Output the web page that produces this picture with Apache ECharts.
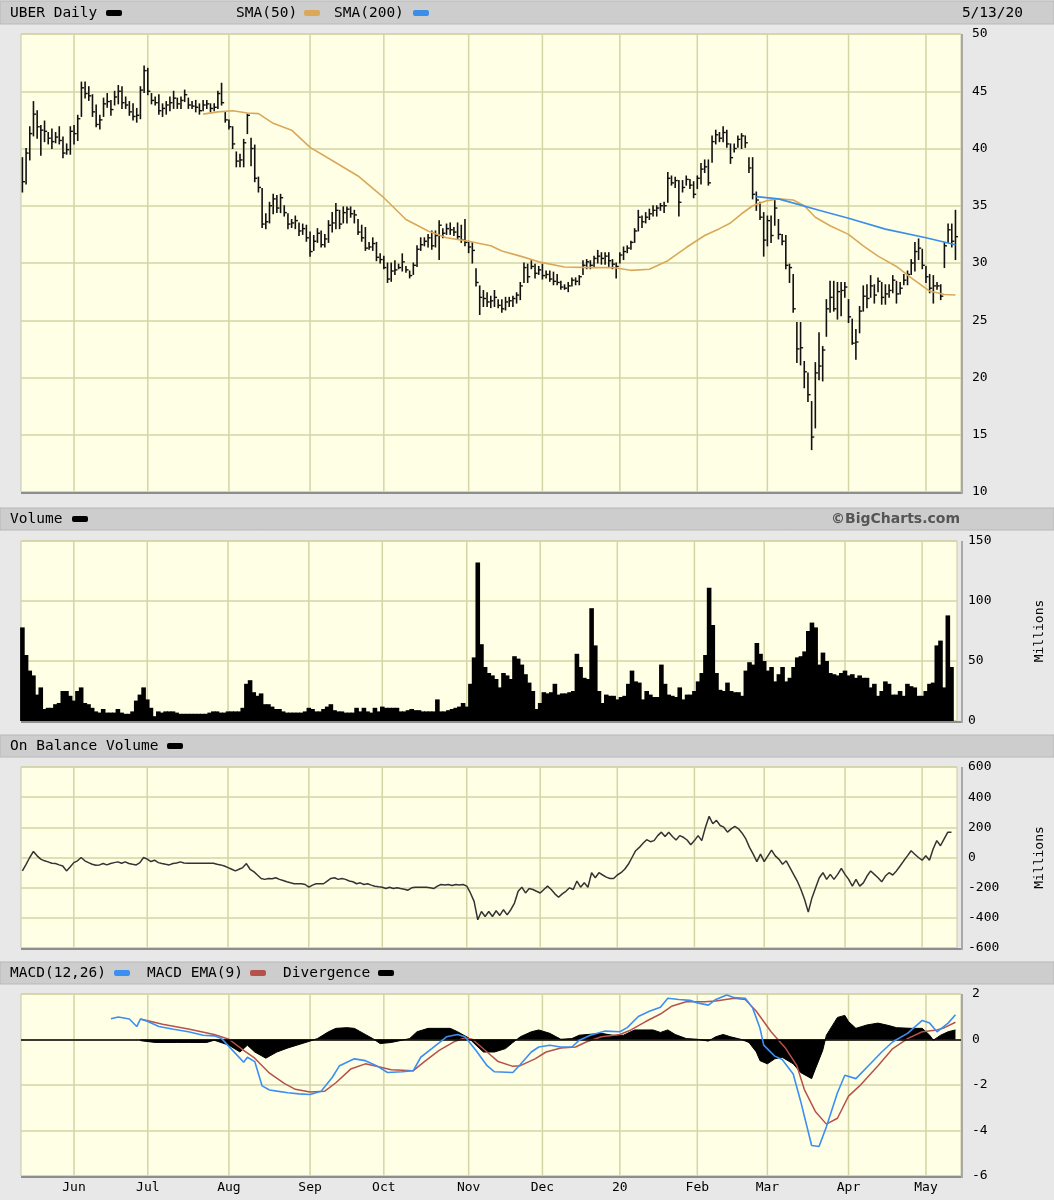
<!DOCTYPE html>
<html><head><meta charset="utf-8">
<script src="https://cdn.jsdelivr.net/npm/echarts@6/dist/echarts.min.js"></script>
<style>html,body{margin:0;padding:0;background:#e8e8e8;}#c{width:1054px;height:1200px;}</style>
</head><body><div id="c"></div>
<script>
// ---- data (UBER daily, 5/13/19 - 5/13/20) ----
const highs = [
39.2,40.0,41.9,44.1,43.3,42.0,42.4,41.4,41.7,41.4,
41.9,41.0,40.4,41.9,42.0,42.9,45.8,45.8,45.4,44.7,
43.8,42.9,44.4,44.8,44.2,45.0,45.5,45.4,44.5,44.1,
43.9,43.5,45.4,47.2,47.0,44.8,44.5,44.7,43.9,44.1,
44.5,45.0,44.4,44.5,45.1,44.4,44.1,44.2,43.9,44.2,
44.2,43.9,43.9,45.0,45.7,43.2,42.5,41.9,39.7,39.5,
40.8,43.0,40.9,40.3,37.5,36.5,34.3,35.3,36.0,35.9,
36.0,35.0,34.3,33.8,34.1,33.5,33.4,33.3,32.7,32.4,
33.0,32.8,32.5,33.7,34.4,35.2,34.6,34.9,34.9,34.9,
34.6,33.8,33.3,33.1,31.8,32.2,31.8,30.8,30.6,30.0,
30.0,30.2,29.9,30.8,29.7,29.3,30.0,31.5,32.2,32.2,
32.5,32.8,32.8,33.7,33.0,33.4,33.5,33.1,33.5,33.3,
33.8,31.9,31.8,29.5,28.0,27.6,27.4,27.1,27.6,26.8,
26.8,27.0,27.0,27.1,27.4,28.3,30.0,29.9,30.2,29.9,
29.7,29.9,29.3,29.3,29.2,29.0,28.4,28.1,28.3,28.7,
28.7,28.9,30.2,30.3,30.2,30.6,31.1,30.9,30.9,30.9,
30.3,30.0,30.9,31.4,31.5,31.9,33.0,34.6,34.1,34.4,
34.7,35.0,35.0,35.2,35.3,37.9,37.6,37.5,37.2,37.2,
37.6,37.3,37.1,37.6,38.7,39.0,39.0,41.1,41.6,41.4,
41.9,41.6,40.4,40.4,41.1,41.3,41.1,39.2,39.2,36.2,
35.3,34.4,34.1,34.1,35.6,33.8,32.5,32.4,29.9,29.0,
24.8,24.8,21.4,20.4,17.9,21.3,23.9,22.7,26.8,28.4,
28.4,28.3,28.3,28.3,26.8,25.1,24.2,26.2,28.0,28.1,
28.9,28.1,28.7,28.3,28.1,28.1,28.9,28.4,28.3,29.0,
29.3,30.3,31.8,32.1,31.2,29.7,29.0,28.9,28.3,28.1,
31.8,33.4,33.4,34.6];
const lows = [
36.2,36.9,39.0,41.1,40.9,39.4,40.6,40.4,40.0,40.5,
40.4,39.2,39.5,39.5,40.4,40.7,42.8,44.4,44.2,42.8,
41.9,41.7,42.8,43.6,42.9,43.8,43.9,43.5,43.5,42.9,
42.5,42.3,42.6,44.9,44.7,43.9,43.8,43.0,42.8,43.0,
43.3,43.5,43.5,43.5,44.1,43.5,43.5,43.2,43.0,43.3,
43.5,43.2,43.3,43.5,43.8,42.3,41.7,40.0,38.4,38.4,
38.4,41.3,38.5,37.1,36.2,33.1,33.0,33.5,34.3,34.4,
34.4,34.1,33.0,33.1,33.0,32.4,32.5,31.9,30.6,31.1,
31.8,31.4,31.4,31.8,32.7,33.0,33.0,33.5,33.5,34.0,
33.5,32.5,31.9,31.1,31.2,31.1,30.2,30.0,29.5,28.3,
28.4,29.0,29.5,29.3,29.2,28.7,29.0,29.7,31.1,31.5,
31.4,31.2,31.4,30.3,32.2,32.5,32.5,32.4,32.1,31.8,
31.5,30.9,30.0,28.0,25.5,26.2,26.2,26.1,26.2,26.1,
25.7,25.9,26.2,26.2,26.5,26.8,28.3,28.3,29.5,28.7,
29.0,28.6,28.7,28.4,28.1,28.1,27.7,27.7,27.5,28.0,
28.1,28.1,29.0,29.5,29.5,29.7,30.0,29.9,29.9,29.7,
29.5,28.7,30.0,30.3,30.9,31.2,31.8,32.8,33.1,33.5,
33.8,34.1,34.1,34.6,34.4,35.3,36.8,36.6,34.1,36.2,
36.8,36.5,35.7,36.5,36.9,37.9,36.8,38.8,40.4,40.6,
40.6,40.1,38.7,39.7,40.1,40.0,40.1,37.9,35.6,34.6,
33.8,30.6,31.5,31.8,33.3,32.1,31.6,29.5,28.3,25.7,
21.3,21.1,19.1,17.9,13.7,15.6,19.8,19.7,23.6,25.7,
25.8,25.1,25.4,27.0,24.8,22.9,21.6,23.9,25.8,26.1,
27.0,26.5,27.5,26.4,26.4,27.0,27.4,26.5,27.3,28.1,
28.1,29.0,29.3,30.3,29.5,28.3,27.4,26.5,27.7,26.8,
29.6,31.8,31.4,30.3];
const closes = [
37.1,39.6,41.3,43.0,41.9,41.6,41.5,40.9,40.6,41.0,
40.7,39.6,39.9,41.5,41.3,42.6,45.3,44.8,44.6,43.2,
42.1,42.5,43.9,44.1,43.4,44.5,45.0,44.0,43.8,43.2,
42.8,42.9,45.1,46.8,45.0,44.2,44.0,43.3,43.5,43.8,
44.0,44.4,43.9,44.2,44.7,43.8,43.7,43.6,43.3,43.8,
43.9,43.5,43.6,44.8,44.0,42.5,41.9,40.4,38.9,39.0,
40.5,42.9,40.0,37.4,36.6,33.4,33.6,35.0,35.6,34.8,
35.7,34.4,33.4,33.5,33.7,32.8,33.0,32.2,31.0,31.9,
32.6,31.6,32.1,33.3,33.5,34.6,33.4,34.4,34.7,34.3,
34.2,32.7,32.2,31.3,31.4,31.7,30.5,30.3,29.6,28.6,
29.3,29.4,29.6,30.1,29.4,28.9,29.8,31.2,31.6,31.9,
32.2,31.5,32.4,33.3,32.6,33.0,32.9,32.7,32.3,32.0,
31.8,31.4,31.1,28.3,27.0,26.9,26.6,26.7,27.0,26.3,
26.0,26.6,26.7,26.9,27.2,28.0,29.6,28.8,29.7,29.1,
29.4,28.9,29.0,28.6,28.4,28.3,27.9,27.8,28.0,28.5,
28.4,28.8,29.8,30.1,29.8,30.4,30.6,30.4,30.6,30.2,
29.9,29.7,30.7,31.0,31.3,31.8,32.8,34.0,33.6,34.0,
34.3,34.6,34.8,35.0,35.0,37.4,37.0,37.2,35.3,36.6,
37.3,36.8,36.0,37.4,38.2,38.4,37.0,40.6,41.2,40.9,
41.4,40.4,39.2,40.0,40.8,41.1,40.5,38.3,36.0,35.5,
34.0,32.0,33.7,32.4,34.8,32.5,31.9,29.8,29.6,26.0,
22.5,22.6,20.5,18.5,14.8,20.4,21.0,22.4,26.0,27.0,
26.0,27.5,27.6,27.9,25.3,23.0,23.1,25.8,27.1,26.9,
28.0,27.2,28.4,27.0,27.3,27.6,28.5,27.3,27.8,28.5,
29.0,30.0,31.0,31.3,29.8,28.8,27.8,28.0,28.0,27.1,
31.5,32.9,31.9,32.3];
const volumes = [ // millions
78,55,42,38,22,28,10,11,11,14,
15,25,25,21,17,25,28,15,14,11,
8,7,10,7,7,7,10,7,6,6,
8,17,22,28,18,11,4,8,7,8,
8,8,7,6,6,6,6,6,6,6,
6,7,8,8,7,7,8,8,8,8,
11,31,34,24,21,23,14,14,12,10,
10,8,7,7,7,7,7,8,11,10,
8,8,10,12,14,9,8,8,7,7,
7,11,8,11,8,7,11,8,12,11,
11,11,11,8,8,9,10,9,9,8,
8,8,8,18,8,8,9,10,11,12,
15,12,31,53,132,64,45,40,38,35,
28,40,38,35,54,52,47,39,32,25,
10,15,24,23,24,31,22,23,23,24,
25,56,45,36,35,94,63,25,15,22,
21,21,18,20,21,31,42,33,32,18,
25,22,20,20,47,31,22,21,20,28,
18,22,22,25,33,40,55,111,80,40,
26,25,32,25,24,24,21,42,49,47,
65,56,50,42,45,33,39,45,33,36,
45,53,54,58,75,82,78,47,57,50,
40,39,38,40,42,38,39,36,38,36,
36,28,31,21,25,33,31,22,22,25,
21,31,29,28,21,21,25,31,32,63,
67,28,88,45];
const obv = [ // millions
-89,-45,0,40,11,-11,-22,-29,-38,-40,
-49,-56,-89,-63,-34,-22,0,-22,-34,-45,
-51,-49,-40,-49,-40,-34,-29,-38,-29,-40,
-45,-49,-34,0,-11,-27,-18,-34,-40,-45,
-49,-40,-36,-29,-36,-38,-38,-38,-38,-38,
-38,-38,-38,-45,-49,-56,-67,-78,-89,-78,
-67,-40,-78,-94,-116,-139,-145,-139,-141,-134,
-145,-152,-161,-168,-174,-174,-174,-179,-197,-183,
-174,-174,-174,-156,-139,-134,-145,-139,-145,-156,
-161,-174,-168,-179,-174,-183,-190,-194,-197,-206,
-197,-206,-201,-206,-210,-217,-201,-197,-197,-197,
-197,-201,-206,-190,-179,-183,-179,-186,-179,-183,
-179,-190,-235,-291,-413,-358,-391,-358,-391,-353,
-384,-346,-380,-346,-302,-224,-197,-235,-206,-212,
-224,-235,-212,-190,-212,-241,-264,-241,-224,-201,
-212,-156,-197,-168,-197,-101,-134,-101,-116,-130,
-139,-139,-116,-101,-78,-45,0,45,67,94,
118,105,112,145,168,139,168,139,116,145,
134,116,85,112,145,112,201,273,224,246,
212,201,168,190,206,190,161,123,67,22,
-27,22,-27,11,49,11,-11,-45,-22,-67,
-112,-156,-212,-279,-362,-268,-201,-134,-101,-145,
-112,-145,-112,-72,-112,-145,-190,-145,-190,-168,
-123,-89,-112,-134,-161,-123,-101,-116,-89,-56,
-22,11,45,22,0,-18,11,-18,56,112,
78,123,168,168];
// indicator lines read at sampled trading-day indices: [dayIndex, value]
const sma50 = [[49,43.0],[53,43.2],[57,43.3],[61,43.1],[64,43.05],[68,42.2],[73,41.6],[78,40.1],[84,38.95],[91,37.6],[98,35.7],[104,33.8],[110,32.8],[115,32.2],[121,31.9],[124,31.7],[127,31.5],[130,31.05],[135,30.6],[140,30.1],[147,29.65],[154,29.6],[160,29.6],[165,29.36],[170,29.45],[175,30.2],[180,31.35],[185,32.4],[189,33.0],[192,33.5],[195,34.3],[198,35.0],[202,35.45],[205,35.6],[209,35.5],[212,35.0],[215,34.0],[219,33.25],[224,32.5],[228,31.5],[232,30.6],[237,29.7],[241,28.7],[246,27.55],[250,27.25],[253,27.2]];
const sma200 = [[199,35.8],[205,35.6],[216,34.6],[224,33.9],[234,32.96],[245,32.2],[253,31.6]];
const macdLine = [[24,0.91],[26,0.99],[29,0.90],[31,0.57],[32,0.90],[34,0.79],[37,0.57],[41,0.45],[45,0.34],[49,0.19],[52,0.16],[54,0.04],[57,-0.48],[60,-1.0],[61,-0.78],[63,-0.97],[65,-2.04],[67,-2.22],[69,-2.27],[72,-2.34],[75,-2.39],[78,-2.42],[81,-2.27],[84,-1.67],[86,-1.15],[90,-0.85],[93,-0.93],[96,-1.15],[99,-1.45],[103,-1.42],[106,-1.37],[108,-0.78],[111,-0.4],[115,0.12],[118,0.22],[120,0.12],[123,-0.48],[126,-1.15],[128,-1.42],[133,-1.45],[135,-1.1],[138,-0.55],[140,-0.33],[143,-0.25],[146,-0.33],[149,-0.33],[151,-0.03],[154,0.19],[158,0.37],[162,0.34],[164,0.52],[167,1.01],[170,1.24],[173,1.42],[175,1.81],[178,1.76],[181,1.72],[183,1.61],[186,1.51],[188,1.76],[191,1.96],[193,1.84],[196,1.81],[198,1.39],[200,0.49],[201,-0.25],[204,-0.73],[206,-0.88],[209,-1.52],[211,-2.7],[214,-4.66],[216,-4.7],[218,-3.84],[221,-2.34],[223,-1.57],[226,-1.72],[229,-1.22],[233,-0.55],[236,-0.1],[240,0.27],[244,0.84],[246,0.72],[248,0.34],[251,0.72],[253,1.09]];
const macdSignal = [[32,0.9],[38,0.67],[45,0.46],[52,0.22],[56,0.01],[60,-0.48],[63,-0.82],[67,-1.48],[71,-1.93],[74,-2.19],[78,-2.31],[82,-2.27],[85,-1.9],[89,-1.3],[93,-1.07],[96,-1.18],[100,-1.33],[106,-1.37],[109,-0.97],[113,-0.48],[117,-0.1],[120,0.07],[122,0.01],[126,-0.55],[129,-0.97],[133,-1.18],[135,-1.15],[139,-0.85],[142,-0.55],[146,-0.37],[150,-0.33],[153,-0.1],[157,0.12],[162,0.22],[165,0.42],[169,0.79],[173,1.12],[176,1.46],[180,1.66],[185,1.66],[188,1.69],[193,1.81],[196,1.76],[199,1.24],[203,0.34],[207,-0.4],[210,-1.15],[212,-2.19],[215,-3.16],[218,-3.72],[221,-3.46],[224,-2.49],[227,-2.04],[232,-1.15],[236,-0.4],[240,0.04],[244,0.34],[248,0.42],[250,0.52],[253,0.76]];
const divergence = [[32,-0.05],[36,-0.13],[42,-0.13],[45,-0.13],[50,-0.13],[52,-0.03],[56,-0.25],[59,-0.55],[61,-0.25],[63,-0.55],[66,-0.82],[69,-0.55],[72,-0.37],[75,-0.22],[78,-0.07],[80,0.04],[83,0.34],[85,0.49],[88,0.52],[90,0.49],[93,0.22],[95,0.04],[97,-0.18],[100,-0.13],[103,-0.03],[105,0.04],[107,0.34],[110,0.49],[116,0.49],[118,0.34],[121,0.07],[123,-0.25],[125,-0.55],[128,-0.55],[131,-0.4],[133,-0.13],[135,0.12],[138,0.34],[140,0.42],[143,0.27],[146,0.01],[149,0.04],[151,0.19],[157,0.27],[161,0.16],[163,0.19],[166,0.42],[171,0.42],[173,0.31],[175,0.42],[177,0.22],[180,0.04],[183,0.01],[186,-0.07],[188,0.12],[190,0.22],[192,0.12],[195,0],[197,-0.13],[199,-0.55],[200,-0.93],[202,-1.07],[204,-0.85],[206,-0.78],[209,-1.07],[211,-1.45],[214,-1.72],[215,-1.3],[217,-0.48],[218,0.19],[221,0.97],[223,1.06],[224,0.79],[226,0.49],[229,0.64],[232,0.72],[235,0.61],[237,0.52],[241,0.49],[244,0.49],[246,0.19],[247,-0.03],[249,0.19],[251,0.34],[253,0.42]];
const monthNames = ['20','Feb','Mar','Apr','May','Jun','Jul','Aug','Sep','Oct','Nov','Dec'];
const holidays = ['2019-05-27','2019-07-04','2019-09-02','2019-11-28','2019-12-25','2020-01-01','2020-01-20','2020-02-17','2020-04-10'];

// trading-day categories
const dates = [];
for (let d = new Date(Date.UTC(2019,4,13)); d <= new Date(Date.UTC(2020,4,13)); d.setUTCDate(d.getUTCDate()+1)) {
  const wd = d.getUTCDay(); if (wd === 0 || wd === 6) continue;
  const s = d.toISOString().slice(0,10); if (holidays.indexOf(s) >= 0) continue;
  dates.push(s);
}
const monthStarts = [];
for (let i = 1; i < dates.length; i++) if (dates[i].slice(5,7) !== dates[i-1].slice(5,7)) monthStarts.push(i);

const FONT = '"DejaVu Sans Mono", monospace';
const GRIDC = '#d4d4a4';
const PLOT = {left:21, width:940};
const panels = [
  {top:34, height:458, min:10, max:50, interval:5},
  {top:541, height:180, min:0, max:150, interval:50, name:'Millions'},
  {top:767, height:181, min:-600, max:600, interval:200, name:'Millions'},
  {top:994, height:182, min:-6, max:2, interval:2}
];
const XMIN = -0.38, XMAX = 254.5;

const grids = panels.map(p => ({left:PLOT.left, width:PLOT.width, top:p.top, height:p.height, show:true, backgroundColor:'#ffffe6', borderColor:'#c8c8a4', borderWidth:1}));
const xAxes = panels.map((p,k) => ({
  type:'value', gridIndex:k, min:XMIN, max:XMAX,
  axisLine:{show:false}, axisTick:{show:false}, splitLine:{show:false},
  axisLabel: k === 3 ? {show:true, customValues:monthStarts, margin:5, fontFamily:FONT, fontSize:13, color:'#000',
      formatter: v => monthNames[+dates[Math.round(v)].slice(5,7) - 1]} : {show:false}
}));
const yAxes = panels.map((p,k) => ({
  type:'value', gridIndex:k, position:'right', min:p.min, max:p.max, interval:p.interval,
  axisLine:{show:false}, axisTick:{show:false},
  splitLine:{show:true, lineStyle:{color:GRIDC, width:1.5}},
  axisLabel:{margin:11, fontFamily:FONT, fontSize:13, color:'#000'},
  name:p.name || '', nameLocation:'middle', nameRotate:90, nameGap:76,
  nameTextStyle:{fontFamily:FONT, fontSize:13, color:'#000'}
}));

function vgrid(k){
  return {type:'custom', xAxisIndex:k, yAxisIndex:k, z:1, silent:true,
    data: monthStarts.map(i => [i, panels[k].min]), encode:{x:0, y:1},
    renderItem:(params, api) => {
      const cs = params.coordSys; const px = api.coord([api.value(0), panels[k].min])[0];
      return {type:'line', shape:{x1:px, y1:cs.y, x2:px, y2:cs.y + cs.height}, style:{stroke:GRIDC, lineWidth:1.5}};
    }};
}

const series = [
  vgrid(0),
  {type:'custom', name:'UBER Daily', xAxisIndex:0, yAxisIndex:0, z:3,
   data: closes.map((c,i) => [i, highs[i], lows[i], c]), encode:{x:0, y:[1,2,3]},
   renderItem:(params, api) => {
     const x = api.value(0);
     const hi = api.coord([x, api.value(1)]), lo = api.coord([x, api.value(2)]), cl = api.coord([x, api.value(3)]);
     return {type:'group', children:[
       {type:'line', shape:{x1:hi[0], y1:hi[1]-0.5, x2:lo[0], y2:lo[1]+0.5}, style:{stroke:'#111', lineWidth:1.6}},
       {type:'line', shape:{x1:cl[0], y1:cl[1], x2:cl[0]+2.6, y2:cl[1]}, style:{stroke:'#111', lineWidth:1.4}}
     ]};
   }},
  {type:'line', name:'SMA(50)', xAxisIndex:0, yAxisIndex:0, z:4, data:sma50, symbol:'none', lineStyle:{color:'#daa858', width:1.6}},
  {type:'line', name:'SMA(200)', xAxisIndex:0, yAxisIndex:0, z:4, data:sma200, symbol:'none', lineStyle:{color:'#3a8ee8', width:1.6}},
  vgrid(1),
  {type:'bar', name:'Volume', xAxisIndex:1, yAxisIndex:1, z:3, data:volumes.map((v,i) => [i, v]), barWidth:4.6, itemStyle:{color:'#000', borderWidth:0}},
  vgrid(2),
  {type:'line', name:'On Balance Volume', xAxisIndex:2, yAxisIndex:2, z:3, data:obv.map((v,i) => [i, v]), symbol:'none', lineStyle:{color:'#333', width:1.5}},
  vgrid(3),
  {type:'line', name:'Divergence', xAxisIndex:3, yAxisIndex:3, z:2, data:divergence, symbol:'none',
   lineStyle:{color:'#000', width:1}, areaStyle:{color:'#000', opacity:1, origin:0},
   markLine:{silent:true, symbol:['none','none'], label:{show:false}, lineStyle:{color:'#000', width:1.5, type:'solid'}, data:[{yAxis:0}]}},
  {type:'line', name:'MACD EMA(9)', xAxisIndex:3, yAxisIndex:3, z:4, data:macdSignal, symbol:'none', lineStyle:{color:'#b5524c', width:1.5}},
  {type:'line', name:'MACD(12,26)', xAxisIndex:3, yAxisIndex:3, z:5, data:macdLine, symbol:'none', lineStyle:{color:'#3c8ff2', width:1.6}}
];

// header bars, legends, shadows (layout only)
const HF = '14.5px ' + FONT;
function bar(y, h){ return {type:'rect', shape:{x:0, y:y, width:1054, height:h}, style:{fill:'#cdcdcd', stroke:'#b8b8b8', lineWidth:1}, z:0}; }
function txt(x, y, t, extra){ return Object.assign({type:'text', x:x, y:y, style:Object.assign({text:t, font:HF, fill:'#000', verticalAlign:'middle'}, extra || {})}, {z:10}); }
function sw(x, y, c){ return {type:'rect', shape:{x:x, y:y-3, width:16, height:6, r:2}, style:{fill:c}, z:10}; }
const graphic = [
  bar(1, 23), txt(10, 13, 'UBER Daily'), sw(106, 13, '#000'),
  txt(236, 13, 'SMA(50)'), sw(304, 13, '#daa858'),
  txt(334, 13, 'SMA(200)'), sw(413, 13, '#3a8ee8'),
  txt(1023, 13, '5/13/20', {align:'right'}),
  bar(508, 22), txt(10, 519, 'Volume'), sw(72, 519, '#000'),
  txt(960, 519, '©BigCharts.com', {align:'right', font:'bold 14px "DejaVu Sans", sans-serif', fill:'#555'}),
  bar(735, 22), txt(10, 746, 'On Balance Volume'), sw(167, 746, '#000'),
  bar(962, 22), txt(10, 973, 'MACD(12,26)'), sw(114, 973, '#3c8ff2'),
  txt(147, 973, 'MACD EMA(9)'), sw(250, 973, '#b5524c'),
  txt(283, 973, 'Divergence'), sw(378, 973, '#000')
];
panels.forEach(p => {
  graphic.push({type:'rect', shape:{x:21, y:p.top + p.height, width:942, height:2}, style:{fill:'#8e8e8e'}, z:10});
  graphic.push({type:'rect', shape:{x:961, y:p.top, width:2, height:p.height + 2}, style:{fill:'#a8a8a8'}, z:10});
});

const chart = echarts.init(document.getElementById('c'), null, {renderer:'canvas'});
chart.setOption({
  animation:false, backgroundColor:'#e8e8e8',
  grid:grids, xAxis:xAxes, yAxis:yAxes, series:series, graphic:graphic
});
</script></body></html>
